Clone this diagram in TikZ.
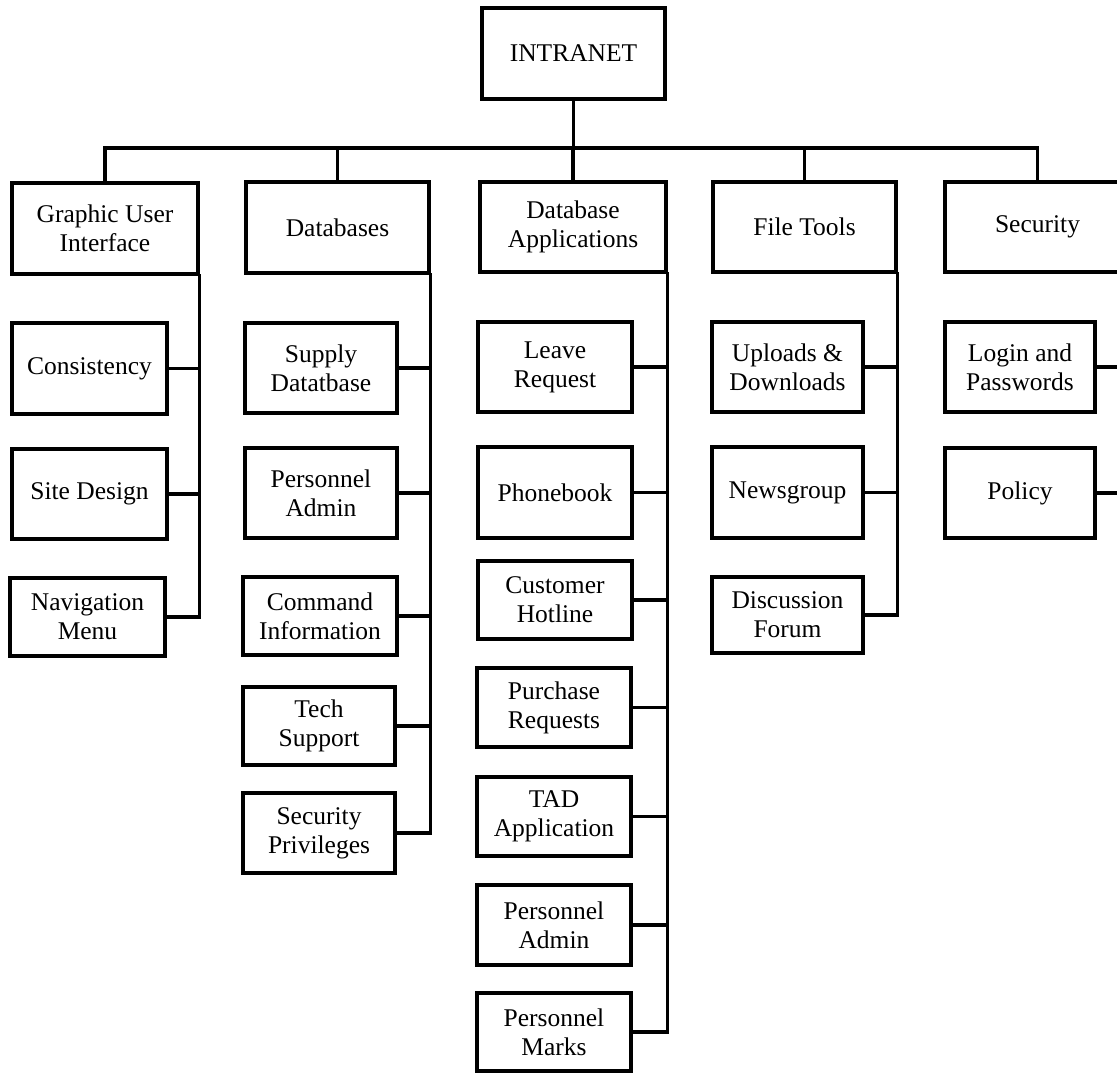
\documentclass[tikz,border=0pt]{standalone}
\usepackage{fontspec}
\setmainfont{Liberation Serif}
\begin{document}
\begin{tikzpicture}[x=1pt,y=-1pt,
  box/.style={draw, line width=3.2pt, inner sep=0pt, align=center,
    font=\fontsize{25.5}{29}\selectfont, fill=white},
  conn/.style={line width=3.2pt, line cap=rect}]
\useasboundingbox (0,0) rectangle (1117,1074);
\clip (0,0) rectangle (1117,1074);
\fill[white] (0,0) rectangle (1117,1074);
\coordinate (bus) at (0,148);
% root
\node[box, minimum width=183pt, minimum height=91pt] (root) at (573.5,53.5) {INTRANET};
% level 1
\node[box, minimum width=186pt, minimum height=91pt] (gui) at (105,228.5) {Graphic User\\Interface};
\node[box, minimum width=183pt, minimum height=91pt] (db) at (337.5,227.5) {Databases};
\node[box, minimum width=186pt, minimum height=90pt] (dba) at (573,227) {Database\\Applications};
\node[box, minimum width=183pt, minimum height=90pt] (ft) at (804.5,227) {File Tools};
\node[box, minimum width=185pt, minimum height=90pt] (sec) at (1037.5,227) {Security};
% GUI children
\node[box, minimum width=155pt, minimum height=91pt] (cons) at (89.5,368.5) {Consistency};
\node[box, minimum width=155pt, minimum height=90pt] (site) at (89.5,494) {Site Design};
\node[box, minimum width=155pt, minimum height=78pt] (nav) at (87.5,617) {Navigation\\Menu};
% DB children
\node[box, minimum width=152pt, minimum height=90pt] (supply) at (321,368) {Supply\\Datatbase};
\node[box, minimum width=152pt, minimum height=90pt] (padm) at (321,493) {Personnel\\Admin};
\node[box, minimum width=154pt, minimum height=78pt] (cmd) at (320,616) {Command\\Information};
\node[box, minimum width=152pt, minimum height=78pt] (tech) at (319,726) {Tech\\Support};
\node[box, minimum width=152pt, minimum height=80pt] (spriv) at (319,833) {Security\\Privileges};
% DBA children
\node[box, minimum width=154pt, minimum height=90pt] (leave) at (555,367) {Leave\\Request};
\node[box, minimum width=154pt, minimum height=91pt] (phone) at (555,492.5) {Phonebook};
\node[box, minimum width=154pt, minimum height=78pt] (cust) at (555,600) {Customer\\Hotline};
\node[box, minimum width=154pt, minimum height=79pt] (purch) at (554,707.5) {Purchase\\Requests};
\node[box, minimum width=154pt, minimum height=79pt] (tad) at (554,816.5) {TAD\\Application};
\node[box, minimum width=154pt, minimum height=80pt] (padm2) at (554,925) {Personnel\\Admin};
\node[box, minimum width=154pt, minimum height=78pt] (pmarks) at (554,1032) {Personnel\\Marks};
% FT children
\node[box, minimum width=151pt, minimum height=90pt] (upl) at (787.5,367) {Uploads \&\\Downloads};
\node[box, minimum width=151pt, minimum height=91pt] (news) at (787.5,492.5) {Newsgroup};
\node[box, minimum width=151pt, minimum height=76pt] (disc) at (787.5,615) {Discussion\\Forum};
% Security children
\node[box, minimum width=150pt, minimum height=90pt] (login) at (1020,367) {Login and\\Passwords};
\node[box, minimum width=150pt, minimum height=90pt] (policy) at (1020,493) {Policy};
% root to bus
\draw[conn] (root.south) -- (root.south |- bus);
\draw[conn] (gui.north) -- (gui.north |- bus) -- (sec.north |- bus) -- (sec.north);
\draw[conn] (db.north) -- (db.north |- bus);
\draw[conn] (dba.north) -- (dba.north |- bus);
\draw[conn] (ft.north) -- (ft.north |- bus);
% trunks
\draw[conn] (gui.south east) -- (gui.south east |- nav.east);
\draw[conn] (db.south east) -- (db.south east |- spriv.east);
\draw[conn] (dba.south east) -- (dba.south east |- pmarks.east);
\draw[conn] (ft.south east) -- (ft.south east |- disc.east);
\draw[conn] (sec.south east) -- (sec.south east |- policy.east);
% branches
\foreach \c in {cons,site,nav}{\draw[conn] (\c.east) -- (\c.east -| gui.south east);}
\foreach \c in {supply,padm,cmd,tech,spriv}{\draw[conn] (\c.east) -- (\c.east -| db.south east);}
\foreach \c in {leave,phone,cust,purch,tad,padm2,pmarks}{\draw[conn] (\c.east) -- (\c.east -| dba.south east);}
\foreach \c in {upl,news,disc}{\draw[conn] (\c.east) -- (\c.east -| ft.south east);}
\foreach \c in {login,policy}{\draw[conn] (\c.east) -- (\c.east -| sec.south east);}
\end{tikzpicture}
\end{document}
